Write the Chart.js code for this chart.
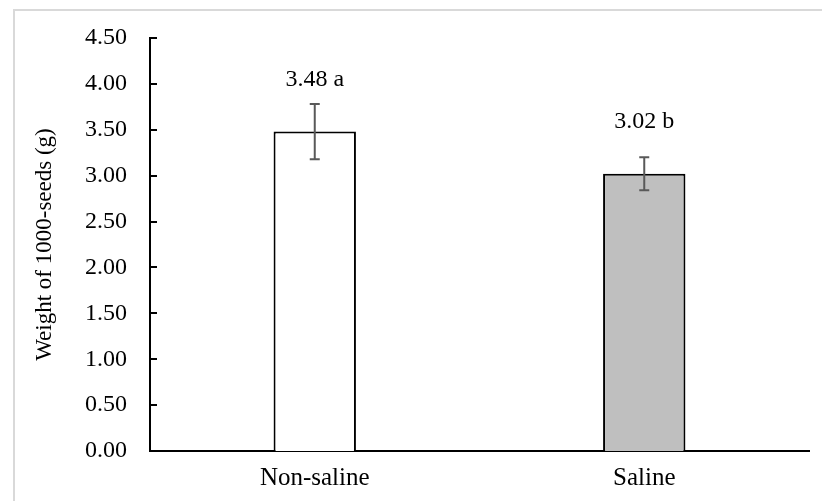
<!DOCTYPE html>
<html>
<head>
<meta charset="utf-8">
<script src="https://cdn.jsdelivr.net/npm/chart.js@4.4.1/dist/chart.umd.min.js"></script>
<style>
  html, body { margin: 0; padding: 0; background: #fff; }
  #wrap { width: 822px; height: 501px; position: relative; }
</style>
</head>
<body>
<div id="wrap"><canvas id="seedChart"></canvas></div>
<script>
const categories = ['Non-saline', 'Saline'];
const means = [3.48, 3.02];
const errors = [0.30, 0.18];
const letters = ['a', 'b'];
const fills = ['#ffffff', '#bfbfbf'];

const FONT = "'Liberation Serif', 'Times New Roman', serif";

// light grey frame (top and left edges only, the rest is cropped)
const framePlugin = {
  id: 'frame',
  beforeDraw: (chart) => {
    const ctx = chart.ctx;
    ctx.save();
    ctx.fillStyle = '#fff';
    ctx.fillRect(0, 0, chart.width, chart.height);
    ctx.strokeStyle = '#d9d9d9';
    ctx.lineWidth = 2;
    ctx.beginPath();
    ctx.moveTo(14, chart.height);
    ctx.lineTo(14, 10);
    ctx.lineTo(chart.width, 10);
    ctx.stroke();
    ctx.restore();
  },
};

// y tick marks point inward, like the spreadsheet default
const insideTicks = {
  id: 'insideTicks',
  afterDraw: (chart) => {
    const y = chart.scales.y;
    const ctx = chart.ctx;
    ctx.save();
    ctx.strokeStyle = '#000';
    ctx.lineWidth = 2;
    y.ticks.forEach((t) => {
      const py = Math.round(y.getPixelForValue(t.value));
      ctx.beginPath();
      ctx.moveTo(y.right, py);
      ctx.lineTo(y.right + 7, py);
      ctx.stroke();
    });
    ctx.restore();
  },
};

const errorBars = {
  id: 'errorBars',
  afterDatasetsDraw: (chart) => {
    const ctx = chart.ctx;
    const y = chart.scales.y;
    const meta = chart.getDatasetMeta(0);
    ctx.save();
    ctx.strokeStyle = '#595959';
    ctx.lineWidth = 2;
    meta.data.forEach((bar, i) => {
      const top = y.getPixelForValue(means[i] + errors[i]);
      const bot = y.getPixelForValue(means[i] - errors[i]);
      ctx.beginPath();
      ctx.moveTo(bar.x, top);
      ctx.lineTo(bar.x, bot);
      ctx.moveTo(bar.x - 5, top);
      ctx.lineTo(bar.x + 5, top);
      ctx.moveTo(bar.x - 5, bot);
      ctx.lineTo(bar.x + 5, bot);
      ctx.stroke();
    });
    // value labels
    ctx.fillStyle = '#000';
    ctx.font = '24px ' + FONT;
    ctx.textAlign = 'center';
    ctx.textBaseline = 'middle';
    meta.data.forEach((bar, i) => {
      ctx.fillText(means[i].toFixed(2) + ' ' + letters[i], bar.x, bar.y - 52);
    });
    ctx.restore();
  },
};

new Chart(document.getElementById('seedChart'), {
  type: 'bar',
  data: {
    labels: categories,
    datasets: [
      {
        data: means,
        backgroundColor: fills,
        borderColor: '#000',
        borderWidth: 2,
        borderSkipped: 'bottom',
        barPercentage: 0.25,
        categoryPercentage: 1,
      },
    ],
  },
  options: {
    responsive: true,
    maintainAspectRatio: false,
    animation: false,
    layout: { padding: { left: 0, right: 13, top: 38, bottom: 0 } },
    plugins: {
      legend: { display: false },
      tooltip: { enabled: false },
    },
    scales: {
      x: {
        grid: { display: false, drawTicks: false },
        border: { display: true, color: '#000', width: 2 },
        ticks: { color: '#000', padding: 12, font: { family: FONT, size: 25 } },
        afterFit: (s) => { s.height = 50; },
      },
      y: {
        min: 0,
        max: 4.5,
        grid: { display: false, drawTicks: false },
        border: { display: true, color: '#000', width: 2 },
        ticks: {
          stepSize: 0.5,
          color: '#000',
          padding: 23,
          font: { family: FONT, size: 24 },
          callback: (v) => Number(v).toFixed(2),
        },
        title: {
          display: true,
          text: 'Weight of 1000-seeds (g)',
          color: '#000',
          font: { family: FONT, size: 23 },
          padding: { top: 31, bottom: 0 },
        },
        afterFit: (s) => { s.width = 150; },
      },
    },
  },
  plugins: [framePlugin, insideTicks, errorBars],
});
</script>
</body>
</html>
